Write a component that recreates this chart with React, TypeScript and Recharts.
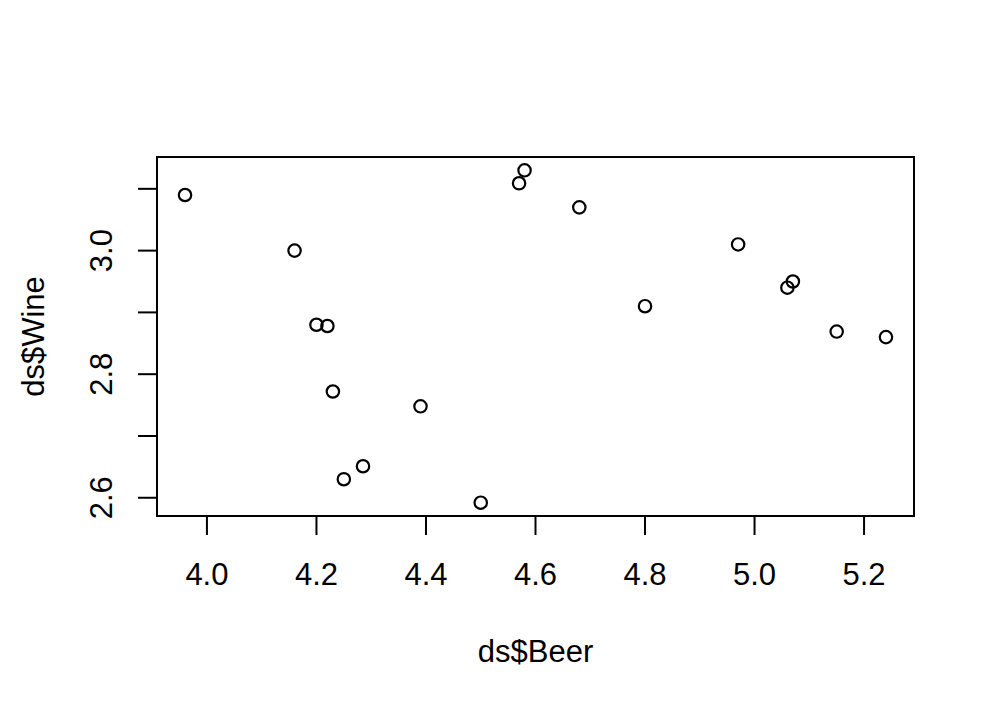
import { ReferenceArea, Scatter, ScatterChart, XAxis, YAxis } from "recharts";

const beer = [3.96, 4.16, 4.2, 4.22, 4.23, 4.39, 4.285, 4.25, 4.5, 4.57, 4.58, 4.68, 4.8, 4.97, 5.06, 5.07, 5.15, 5.24];
const wine = [3.09, 3.0, 2.88, 2.878, 2.772, 2.748, 2.651, 2.63, 2.592, 3.109, 3.13, 3.07, 2.91, 3.01, 2.94, 2.95, 2.869, 2.86];

const xTicks = [4.0, 4.2, 4.4, 4.6, 4.8, 5.0, 5.2];
const yTicks = [2.6, 2.7, 2.8, 2.9, 3.0, 3.1];
// R drops the odd labels on the y axis because they would overlap
const yTickLabels = ["2.6", "", "2.8", "", "3.0", ""];

const data = beer.map((b, i) => ({ beer: b, wine: wine[i] }));

// R pads the data range by 4% on each side
function pad(v: number[]): [number, number] {
  const lo = Math.min(...v);
  const hi = Math.max(...v);
  const d = (hi - lo) * 0.04;
  return [lo - d, hi + d];
}
const xDomain = pad(beer);
const yDomain = pad(wine);

const FONT = "'Liberation Sans', Arial, sans-serif";
const FS = 31;

const XTick = ({ x, payload }: any) => (
  <text x={x} y={577} textAnchor="middle" fontSize={FS} fontFamily={FONT} fill="#000">
    {payload.value.toFixed(1)}
  </text>
);

const YTick = ({ y, payload }: any) => {
  const label = yTickLabels[yTicks.indexOf(payload.value)];
  if (!label) return null;
  return (
    <text transform={`translate(104, ${y}) rotate(-90)`} textAnchor="middle" fontSize={FS} fontFamily={FONT} fill="#000">
      {label}
    </text>
  );
};

const Dot = ({ cx, cy }: any) => <circle cx={cx} cy={cy} r={6.2} fill="none" stroke="#000" strokeWidth={2.2} />;

export default function App() {
  return (
    <div style={{ width: 980, height: 696, background: "#fff" }}>
      <ScatterChart width={980} height={696} margin={{ top: 149, right: 74, bottom: 128, left: 89 }}>
        <XAxis
          type="number"
          dataKey="beer"
          domain={xDomain}
          ticks={xTicks}
          interval={0}
          allowDataOverflow
          axisLine={false}
          tickSize={19}
          tickLine={{ stroke: "#000", strokeWidth: 2 }}
          tick={<XTick />}
          height={60}
          label={{
            content: () => (
              <text x={527.5} y={654} textAnchor="middle" fontSize={FS} fontFamily={FONT} fill="#000">
                ds$Beer
              </text>
            ),
          }}
        />
        <YAxis
          type="number"
          dataKey="wine"
          domain={yDomain}
          ticks={yTicks}
          interval={0}
          allowDataOverflow
          axisLine={false}
          tickSize={19}
          tickLine={{ stroke: "#000", strokeWidth: 2 }}
          tick={<YTick />}
          width={60}
          label={{
            content: () => (
              <text transform="translate(36, 328.5) rotate(-90)" textAnchor="middle" fontSize={FS} fontFamily={FONT} fill="#000">
                ds$Wine
              </text>
            ),
          }}
        />
        <ReferenceArea
          x1={xDomain[0]}
          x2={xDomain[1]}
          y1={yDomain[0]}
          y2={yDomain[1]}
          fill="none"
          fillOpacity={0}
          stroke="#000"
          strokeWidth={2}
          strokeOpacity={1}
          ifOverflow="visible"
        />
        <Scatter data={data} shape={<Dot />} isAnimationActive={false} />
      </ScatterChart>
    </div>
  );
}
